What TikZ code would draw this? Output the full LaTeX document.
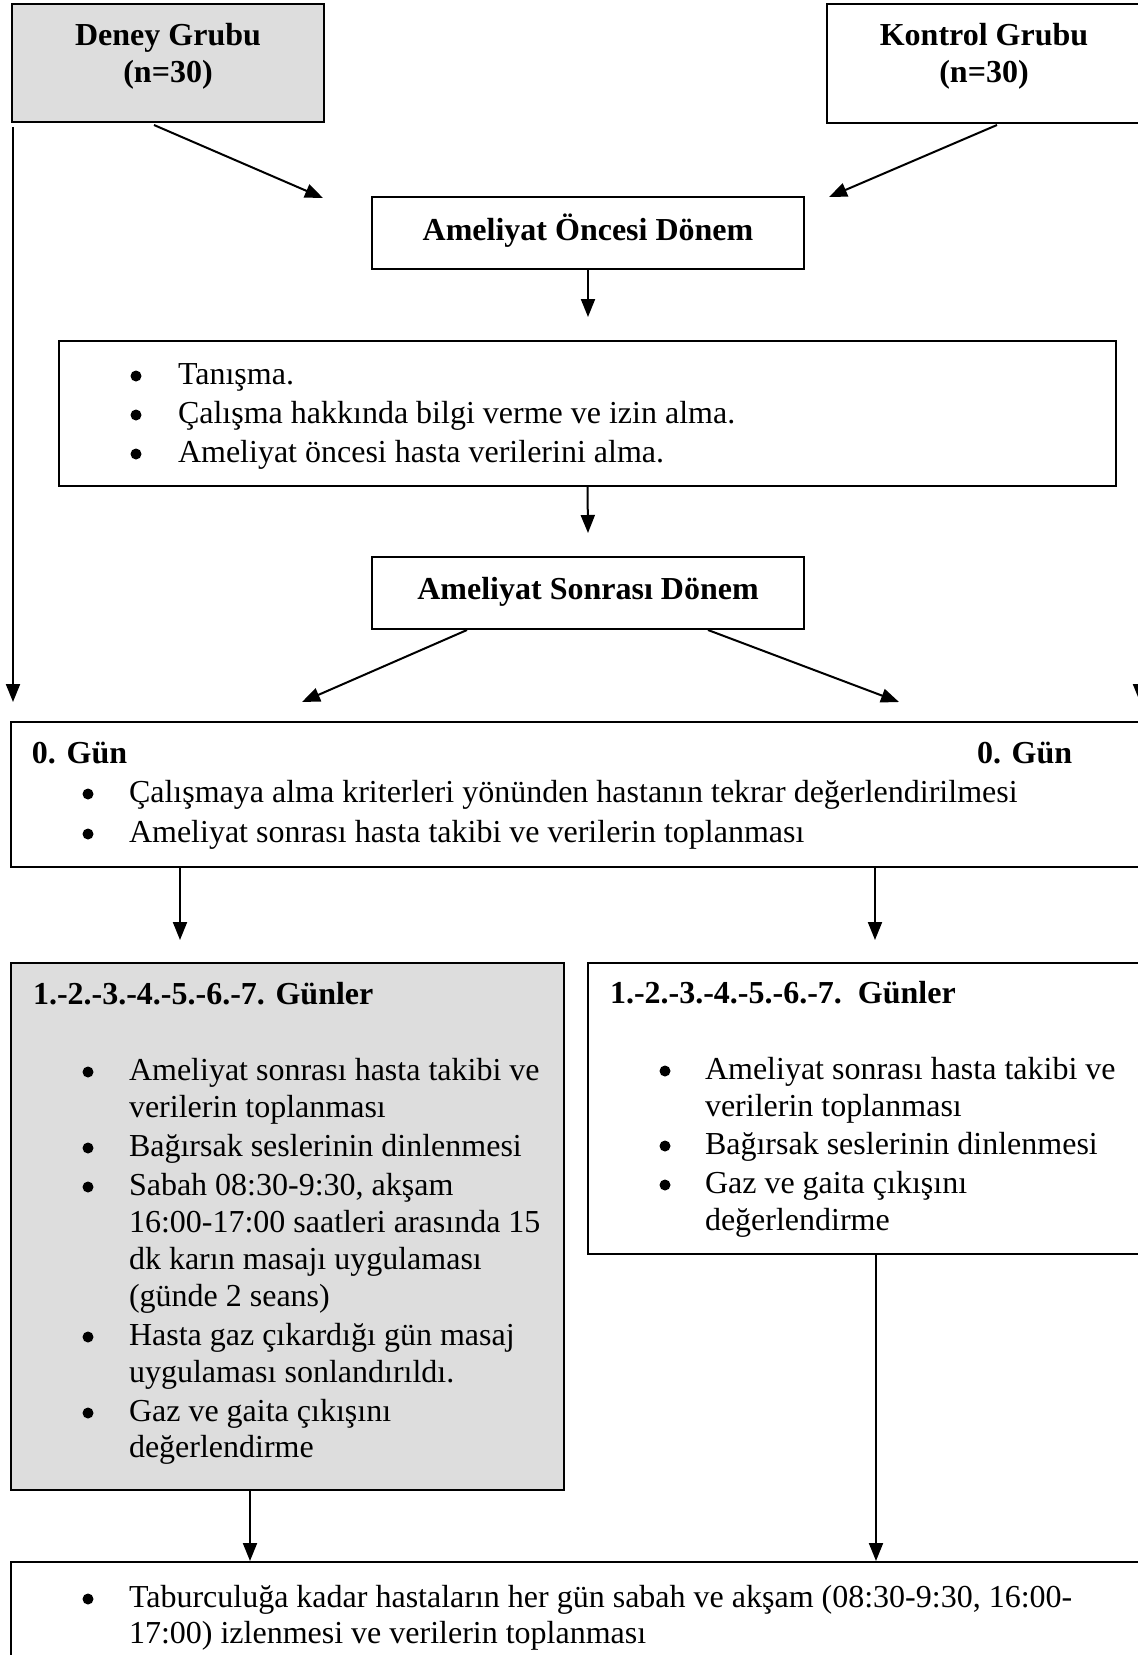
\documentclass[tikz,border=0pt]{standalone}
\usepackage{fontspec}
\setmainfont{Liberation Serif}
\usetikzlibrary{arrows.meta,fit}
\definecolor{boxgray}{RGB}{221,221,221}
\tikzset{
  box/.style={draw=black, line width=1pt, inner sep=0pt},
  graybox/.style={box, fill=boxgray},
  txt/.style={inner sep=0pt, outer sep=0pt, font=\fontsize{16pt}{19pt}\selectfont, anchor=base west},
  btxt/.style={txt, font=\fontsize{16pt}{19pt}\selectfont\bfseries},
  ctxt/.style={btxt, anchor=base},
  bul/.style={circle, fill=black, draw=none, inner sep=0pt, minimum size=5.5pt, yshift=4pt},
  arr/.style={line width=1pt, -{Triangle[length=9pt,width=7pt]}},
}
\begin{document}
\begin{tikzpicture}[x=0.5pt,y=-0.5pt]
\useasboundingbox (0,0) rectangle (1138,1655);

% boxes
\node[graybox, fit={(12,4)(324,122)}] (deney) {};
\node[box, fit={(827,4)(1142,123)}] (kontrol) {};
\node[box, fit={(372,197)(804,269)}] (oncesi) {};
\node[box, fit={(59,341)(1116,486)}] (pre) {};
\node[box, fit={(372,557)(804,629)}] (sonrasi) {};
\node[box, fit={(11,722)(1150,867)}] (gun0) {};
\node[graybox, fit={(11,963)(564,1490)}] (dgun) {};
\node[box, fit={(588,963)(1150,1254)}] (kgun) {};
\node[box, fit={(11,1562)(1150,1720)}] (final) {};

% texts
\node[ctxt] (deneyA) at (168,45) {Deney Grubu};
\node[ctxt] (deneyB) at (168,82) {(n=30)};
\node[ctxt] (kontrolA) at (984,45) {Kontrol Grubu};
\node[ctxt] (kontrolB) at (984,82) {(n=30)};
\node[ctxt] (oncesiT) at (588,240) {Ameliyat Öncesi Dönem};

\node[bul] (pb1) at (136,384) {};
\node[txt] (pt1) at (178,384) {Tanışma.};
\node[bul] (pb2) at (136,423) {};
\node[txt] (pt2) at (178,423) {Çalışma hakkında bilgi verme ve izin alma.};
\node[bul] (pb3) at (136,462) {};
\node[txt] (pt3) at (178,462) {Ameliyat öncesi hasta verilerini alma.};

\node[ctxt] (sonrasiT) at (588,599) {Ameliyat Sonrası Dönem};

\node[btxt] (g0a) at (32,763) {0. Gün};
\node[btxt] (g0b) at (977,763) {0. Gün};
\node[bul] (gb1) at (88,802) {};
\node[txt] (gt1) at (129,802) {Çalışmaya alma kriterleri yönünden hastanın tekrar değerlendirilmesi};
\node[bul] (gb2) at (88,842) {};
\node[txt] (gt2) at (129,842) {Ameliyat sonrası hasta takibi ve verilerin toplanması};

\node[btxt] (dh) at (33,1004) {1.-2.-3.-4.-5.-6.-7. Günler};
\node[bul] (db1) at (88,1080) {};
\node[txt] (dt1) at (129,1080) {Ameliyat sonrası hasta takibi ve};
\node[txt] (dt2) at (129,1117) {verilerin toplanması};
\node[bul] (db2) at (88,1156) {};
\node[txt] (dt3) at (129,1156) {Bağırsak seslerinin dinlenmesi};
\node[bul] (db3) at (88,1195) {};
\node[txt] (dt4) at (129,1195) {Sabah 08:30-9:30, akşam};
\node[txt] (dt5) at (129,1232) {16:00-17:00 saatleri arasında 15};
\node[txt] (dt6) at (129,1269) {dk karın masajı uygulaması};
\node[txt] (dt7) at (129,1306) {(günde 2 seans)};
\node[bul] (db4) at (88,1345) {};
\node[txt] (dt8) at (129,1345) {Hasta gaz çıkardığı gün masaj};
\node[txt] (dt9) at (129,1382) {uygulaması sonlandırıldı.};
\node[bul] (db5) at (88,1421) {};
\node[txt] (dt10) at (129,1421) {Gaz ve gaita çıkışını};
\node[txt] (dt11) at (129,1457) {değerlendirme};

\node[btxt] (kh) at (610,1003) {1.-2.-3.-4.-5.-6.-7.\ \ Günler};
\node[bul] (kb1) at (665,1079) {};
\node[txt] (kt1) at (705,1079) {Ameliyat sonrası hasta takibi ve};
\node[txt] (kt2) at (705,1116) {verilerin toplanması};
\node[bul] (kb2) at (665,1154) {};
\node[txt] (kt3) at (705,1154) {Bağırsak seslerinin dinlenmesi};
\node[bul] (kb3) at (665,1193) {};
\node[txt] (kt4) at (705,1193) {Gaz ve gaita çıkışını};
\node[txt] (kt5) at (705,1230) {değerlendirme};

\node[bul] (fb1) at (88,1607) {};
\node[txt] (ft1) at (129,1607) {Taburculuğa kadar hastaların her gün sabah ve akşam (08:30-9:30, 16:00-};
\node[txt] (ft2) at (129,1643) {17:00) izlenmesi ve verilerin toplanması};

% connector end points
\coordinate (a1s) at (154,125);  \coordinate (a1e) at (323,198);
\coordinate (a2s) at (997,125);  \coordinate (a2e) at (829,197);
\coordinate (a3e) at (588,317);
\coordinate (a4e) at (588,533);
\coordinate (a5s) at (467,630);  \coordinate (a5e) at (302,702);
\coordinate (a6s) at (708,630);  \coordinate (a6e) at (899,702);
\coordinate (a7s) at (13,127);   \coordinate (a7e) at (13,702);
\coordinate (a8s) at (1140,127); \coordinate (a8e) at (1140,702);
\coordinate (a9s) at (180,867);  \coordinate (a9e) at (180,940);
\coordinate (a10s) at (875,867); \coordinate (a10e) at (875,940);
\coordinate (a11s) at (250,1490);
\coordinate (a12s) at (876,1254);

% connectors
\draw[arr] (a1s) -- (a1e);
\draw[arr] (a2s) -- (a2e);
\draw[arr] (oncesi.south) -- (a3e);
\draw[arr] (pre.south) -- (a4e);
\draw[arr] (a5s) -- (a5e);
\draw[arr] (a6s) -- (a6e);
\draw[arr] (a7s) -- (a7e);
\draw[arr] (a8s) -- (a8e);
\draw[arr] (a9s) -- (a9e);
\draw[arr] (a10s) -- (a10e);
\draw[arr] (a11s) -- (a11s |- final.north);
\draw[arr] (a12s) -- (a12s |- final.north);
\end{tikzpicture}
\end{document}
